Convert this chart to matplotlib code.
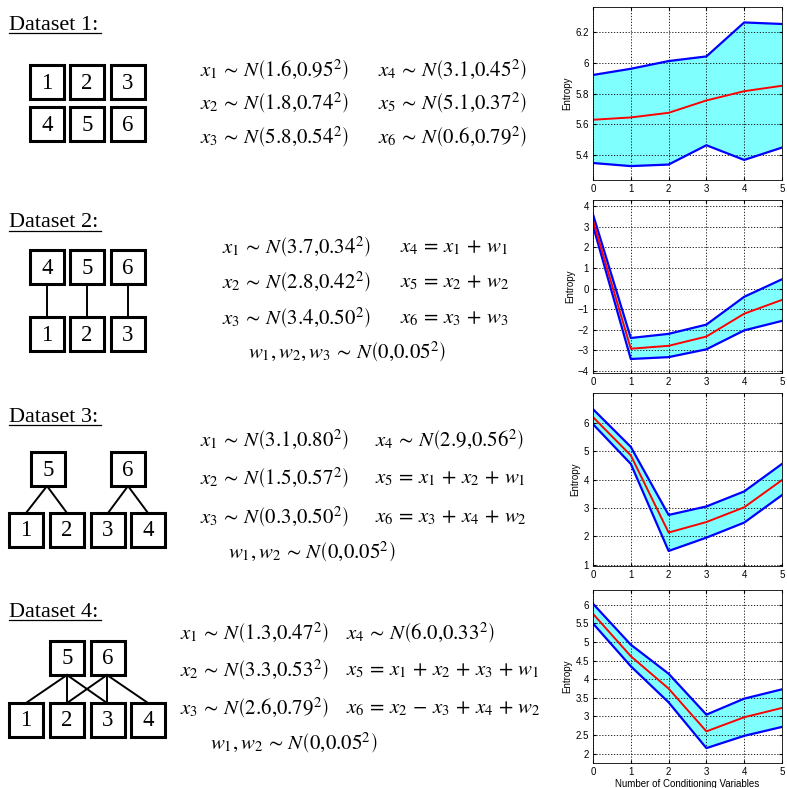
import matplotlib.pyplot as plt
from matplotlib.patches import Rectangle

plt.rcParams['mathtext.fontset'] = 'stix'

# number of conditioning variables
k = [0, 1, 2, 3, 4, 5]

# entropy curves: upper bound, mean, lower bound
d1_hi = [5.92, 5.96, 6.01, 6.04, 6.26, 6.25]
d1_mid = [5.63, 5.645, 5.675, 5.755, 5.815, 5.85]
d1_lo = [5.35, 5.33, 5.34, 5.465, 5.37, 5.45]

d2_hi = [3.6, -2.4, -2.2, -1.75, -0.4, 0.45]
d2_mid = [3.3, -2.92, -2.78, -2.33, -1.22, -0.55]
d2_lo = [3.05, -3.42, -3.33, -2.95, -2.03, -1.57]

d3_hi = [6.48, 5.15, 2.75, 3.05, 3.58, 4.55]
d3_mid = [6.2, 4.85, 2.13, 2.5, 3.02, 3.98]
d3_lo = [5.95, 4.55, 1.48, 1.95, 2.48, 3.45]

d4_hi = [6.03, 4.93, 4.15, 3.05, 3.48, 3.73]
d4_mid = [5.76, 4.62, 3.75, 2.6, 2.98, 3.23]
d4_lo = [5.5, 4.35, 3.38, 2.15, 2.48, 2.72]

ylims = [(5.24, 6.36), (-4.1, 4.3), (0.95, 7.05), (1.75, 6.4)]
yticks = [[5.4, 5.6, 5.8, 6.0, 6.2], list(range(-4, 5)), list(range(1, 7)),
          [2, 2.5, 3, 3.5, 4, 4.5, 5, 5.5, 6]]
ytick_labels = [['5.4', '5.6', '5.8', '6', '6.2'], None, None,
                ['2', '2.5', '3', '3.5', '4', '4.5', '5', '5.5', '6']]

titles = ['Dataset 1:', 'Dataset 2:', 'Dataset 3:', 'Dataset 4:']

S = r'\,\sim\,'
E = r'\,=\,'
P = r'\,+\,'
M = r'\,-\,'
eq1 = [r'$x_1' + S + r'N\left(1.6{,}0.95^2\right)$', r'$x_4' + S + r'N\left(3.1{,}0.45^2\right)$',
       r'$x_2' + S + r'N\left(1.8{,}0.74^2\right)$', r'$x_5' + S + r'N\left(5.1{,}0.37^2\right)$',
       r'$x_3' + S + r'N\left(5.8{,}0.54^2\right)$', r'$x_6' + S + r'N\left(0.6{,}0.79^2\right)$']
eq2 = [r'$x_1' + S + r'N\left(3.7{,}0.34^2\right)$', r'$x_4' + E + 'x_1' + P + 'w_1$',
       r'$x_2' + S + r'N\left(2.8{,}0.42^2\right)$', r'$x_5' + E + 'x_2' + P + 'w_2$',
       r'$x_3' + S + r'N\left(3.4{,}0.50^2\right)$', r'$x_6' + E + 'x_3' + P + 'w_3$',
       r'$w_1,w_2,w_3' + S + r'N\left(0{,}0.05^2\right)$']
eq3 = [r'$x_1' + S + r'N\left(3.1{,}0.80^2\right)$', r'$x_4' + S + r'N\left(2.9{,}0.56^2\right)$',
       r'$x_2' + S + r'N\left(1.5{,}0.57^2\right)$', r'$x_5' + E + 'x_1' + P + 'x_2' + P + 'w_1$',
       r'$x_3' + S + r'N\left(0.3{,}0.50^2\right)$', r'$x_6' + E + 'x_3' + P + 'x_4' + P + 'w_2$',
       r'$w_1,w_2' + S + r'N\left(0{,}0.05^2\right)$']
eq4 = [r'$x_1' + S + r'N\left(1.3{,}0.47^2\right)$', r'$x_4' + S + r'N\left(6.0{,}0.33^2\right)$',
       r'$x_2' + S + r'N\left(3.3{,}0.53^2\right)$',
       r'$x_5' + E + 'x_1' + P + 'x_2' + P + 'x_3' + P + 'w_1$',
       r'$x_3' + S + r'N\left(2.6{,}0.79^2\right)$',
       r'$x_6' + E + 'x_2' + M + 'x_3' + P + 'x_4' + P + 'w_2$',
       r'$w_1,w_2' + S + r'N\left(0{,}0.05^2\right)$']

fig = plt.figure(figsize=(7.87, 7.88), dpi=100)

# background axes in pixel coordinates for the left part
bg = fig.add_axes([0, 0, 1, 1])
bg.set_xlim(0, 787)
bg.set_ylim(788, 0)
bg.axis('off')

serif = 'Liberation Serif'

# dataset titles, underlined
for (ty, uy), t in zip([(30, 33), (227, 231), (422, 425), (617, 620)], titles):
    bg.text(9, ty, t, fontsize=16, family=serif, va='baseline', ha='left')
    bg.plot([9, 101], [uy, uy], color='k', lw=0.9)

def box(x, y, label, s=34):
    bg.add_patch(Rectangle((x, y), s, s, fill=False, lw=2.2, ec='k'))
    bg.text(x + s / 2, y + s / 2 + 1, label, fontsize=16.5, family=serif,
            ha='center', va='center')

# dataset 1 boxes
for i, (x, y) in enumerate([(30, 65), (70, 65), (111, 65), (30, 107), (70, 107), (111, 107)]):
    box(x, y, str(i + 1))

# dataset 2 boxes
for x, lab in zip([30, 70, 111], ['4', '5', '6']):
    box(x, 250, lab)
for x, lab in zip([30, 70, 111], ['1', '2', '3']):
    box(x, 317, lab)
    bg.plot([x + 17, x + 17], [284, 317], color='k', lw=1.4)

# dataset 3 boxes
box(31, 452, '5')
box(111, 452, '6')
for x, lab in zip([9, 50, 91, 131], ['1', '2', '3', '4']):
    box(x, 513, lab)
bg.plot([26, 47, 67], [513, 486, 513], color='k', lw=1.4)
bg.plot([108, 128, 148], [513, 486, 513], color='k', lw=1.4)

# dataset 4 boxes
box(50, 641, '5')
box(91, 641, '6')
for x, lab in zip([9, 50, 91, 131], ['1', '2', '3', '4']):
    box(x, 703, lab)
for bx in [26, 67, 107]:
    bg.plot([67, bx], [675, 703], color='k', lw=1.4)
for bx in [67, 107, 148]:
    bg.plot([107, bx], [675, 703], color='k', lw=1.4)

# equations
def equations(eqs, x1, x2, xw, ys):
    for i in range(3):
        bg.text(x1, ys[i], eqs[2 * i], fontsize=15, ha='left', va='center')
        bg.text(x2, ys[i], eqs[2 * i + 1], fontsize=15, ha='left', va='center')
    if len(eqs) > 6:
        bg.text(xw, ys[3], eqs[6], fontsize=15, ha='left', va='center')

equations(eq1, 200, 378, 0, [70, 103, 137])
equations(eq2, 222, 400, 248, [247, 282, 318, 352])
equations(eq3, 200, 375, 228, [440, 478, 517, 552])
equations(eq4, 180, 346, 210, [633, 670, 708, 743])

# entropy plots
tops = [7, 200, 393, 590]
data = [(d1_hi, d1_mid, d1_lo), (d2_hi, d2_mid, d2_lo),
        (d3_hi, d3_mid, d3_lo), (d4_hi, d4_mid, d4_lo)]
sans = 'Liberation Sans'
for i, (hi, mid, lo) in enumerate(data):
    top = tops[i]
    ax = fig.add_axes([593 / 787, 1 - (top + 173) / 788, 189 / 787, 173 / 788])
    ax.fill_between(k, lo, hi, color='#80ffff', lw=0)
    ax.plot(k, hi, color='#0000ff', lw=1.6)
    ax.plot(k, lo, color='#0000ff', lw=1.6)
    ax.plot(k, mid, color='#ff0000', lw=1.4)
    ax.set_xlim(0, 5)
    ax.set_ylim(*ylims[i])
    ax.set_xticks(k)
    ax.set_yticks(yticks[i])
    if ytick_labels[i] is not None:
        ax.set_yticklabels(ytick_labels[i])
    ax.grid(True, color='k', linestyle=(0, (1.5, 2)), lw=0.6)
    ax.tick_params(direction='in', length=2.5, labelsize=7, pad=3,
                   top=True, right=True)
    for lab in ax.get_xticklabels() + ax.get_yticklabels():
        lab.set_family(sans)
    for sp in ax.spines.values():
        sp.set_linewidth(0.6)
    ax.set_ylabel('Entropy', fontsize=7, labelpad=2, family=sans)
    if i == 3:
        ax.set_xlabel('Number of Conditioning Variables', fontsize=7,
                      labelpad=1, family=sans)

fig.savefig('out.png', dpi=100)
